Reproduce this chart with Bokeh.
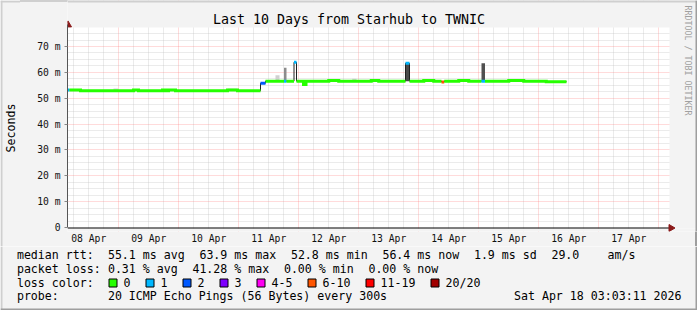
import math
from bokeh.plotting import figure
from bokeh.layouts import column, row
from bokeh.models import Range1d, FixedTicker
from bokeh.core.properties import value
from bokeh.embed import file_html
from bokeh.resources import INLINE

# ---------------- data (hours since 2026-04-08 00:00, values in ms) ----------------
view_start_h = 3.5
view_end_h = 243.5
y_top_ms = 77.0

run_start_h = [3.5, 4.3, 8.7, 29.9, 31.9, 41.5, 42.7, 43.9, 46.7, 67.5, 71.5,
               80.7, 82.7, 90.1, 91.1, 94.1, 95.1, 97.9, 98.9, 108.0, 112.0,
               125.0, 128.0, 138.7, 140.3, 146.0, 150.0, 153.1, 154.2, 160.0,
               164.0, 169.1, 170.5, 180.0, 186.0, 195.0]
run_end_h = 203.1
median_ms = [53.2, 53.2, 52.9, 53.2, 52.9, 53.2, 52.9, 53.2, 52.9, 53.2, 52.9,
             55.8, 56.6, 56.6, 56.6, 63.9, 56.6, 55.3, 56.6, 56.8, 56.6,
             56.8, 56.6, 63.5, 56.6, 56.8, 56.6, 56.3, 56.6, 56.8,
             56.6, 56.6, 56.6, 56.8, 56.6, 56.4]
lost_pings = [1, 0, 0, 0, 0, 0, 0, 0, 0, 0, 0,
              2, 0, 1, 0, 1, 0, 0, 0, 0, 0,
              0, 0, 1, 0, 0, 0, 8, 0, 0,
              0, 1, 0, 0, 0, 0]

smoke_t0_h = [21.9, 43.9, 67.5, 86.7, 90.1, 117.4, 138.7, 169.1]
smoke_t1_h = [23.9, 46.7, 71.5, 88.3, 91.1, 119.1, 140.3, 170.5]
smoke_lo_ms = [53.0, 53.0, 53.0, 56.6, 56.6, 56.6, 56.6, 56.6]
smoke_hi_ms = [53.8, 53.6, 53.8, 58.9, 61.8, 57.5, 63.5, 63.5]
smoke_shade = ["#d4d4d4", "#d4d4d4", "#d4d4d4", "#d0d0d0", "#8c8c8c", "#d4d4d4", "#4a4a4a", "#505050"]

day_label_h = [12, 36, 60, 84, 108, 132, 156, 180, 204, 228]
day_labels = ["08 Apr", "09 Apr", "10 Apr", "11 Apr", "12 Apr", "13 Apr", "14 Apr",
              "15 Apr", "16 Apr", "17 Apr"]
y_ticks = [0, 10, 20, 30, 40, 50, 60, 70]
y_tick_labels = ["0", "10 m", "20 m", "30 m", "40 m", "50 m", "60 m", "70 m"]

loss_labels = ["0", "1", "2", "3", "4-5", "6-10", "11-19", "20/20"]
loss_upper = [0, 1, 2, 3, 5, 10, 19, 20]
loss_colors = ["#26ff00", "#00b8ff", "#0059ff", "#7e00ff", "#ff00f2", "#ff5500", "#ff0000", "#a10000"]

title_text = "Last 10 Days from Starhub to TWNIC"
y_label_text = "Seconds"
watermark_text = "RRDTOOL / TOBI OETIKER"
rtt_items = ["55.1 ms avg", "63.9 ms max", "52.8 ms min", "56.4 ms now", "1.9 ms sd", "29.0", "am/s"]
loss_items = ["0.31 % avg", "41.28 % max", "0.00 % min", "0.00 % now"]
probe_text = "20 ICMP Echo Pings (56 Bytes) every 300s"
date_text = "Sat Apr 18 03:03:11 2026"

# ---------------- layout constants (pixels) ----------------
MONO = "DejaVu Sans Mono"
W, H = 697, 310
LW = 20           # width of the left strip figure (y label)
L = 67            # frame left (canvas)
PT = 28           # top of data area
PB = 228          # bottom of data area (x axis)
PW = 600          # data area width
TOP_H = 246       # height of upper figures
FB = 232          # frame bottom in upper figure
BG = "#f3f3f3"
LIGHT = "#cfcfcf"
DARK = "#9e9e9e"
ARROW = "#8b1a1a"
SHIFT = 0.39      # baseline correction (in em) for alphabetic text

px_per_h = PW / (view_end_h - view_start_h)
px_per_ms = (PB - PT) / y_top_ms
x_hi = view_start_h + (W - L) / px_per_h
y_hi = PB / px_per_ms
y_lo = -(FB - PB) / px_per_ms


def bare(width, height, xr, yr):
    f = figure(width=width, height=height, output_backend="svg", toolbar_location=None,
               title=None, x_range=xr, y_range=yr, x_axis_location=None, y_axis_location=None,
               min_border_left=0, min_border_right=0, min_border_top=0, min_border_bottom=0)
    f.frame_align = False
    f.background_fill_color = BG
    f.border_fill_color = BG
    f.outline_line_color = None
    f.grid.visible = False
    return f


# ---------------- left strip: y label ----------------
s = bare(LW, TOP_H, Range1d(0, LW), Range1d(TOP_H, 0))
s.quad(left=[0, 0], right=[2, LW], top=[0, 0], bottom=[TOP_H, 2], fill_color=[LIGHT, LIGHT],
       line_color=None)
s.text(x=[10], y=[127.5], text=[y_label_text], text_font=value(MONO),
       text_font_size=value("11.6px"), text_align="center", text_baseline="middle",
       text_color="black", angle=math.pi / 2)

# ---------------- main chart ----------------
p = figure(width=W - LW, height=TOP_H, output_backend="svg", toolbar_location=None, title=None,
           x_range=Range1d(view_start_h, x_hi), y_range=Range1d(y_lo, y_hi),
           min_border_left=L - LW, min_border_right=0, min_border_top=0,
           min_border_bottom=TOP_H - FB)
p.frame_align = False
p.extra_x_ranges = {"cx": Range1d(L, W)}
p.extra_y_ranges = {"cy": Range1d(FB, 0)}
p.background_fill_color = "white"
p.border_fill_alpha = 0.0
p.outline_line_color = None
p.styles = {"background": ("linear-gradient(to bottom, %s 2px, transparent 2px), "
                           "linear-gradient(to left, %s 2px, %s 2px)") % (LIGHT, DARK, BG)}

# grids
mid = [24 * k for k in range(1, 11)]
six = [h for h in range(6, 244, 6) if h % 24 != 0]
p.xgrid.ticker = FixedTicker(ticks=mid, minor_ticks=six)
p.ygrid.ticker = FixedTicker(ticks=[10, 20, 30, 40, 50, 60, 70],
                             minor_ticks=[v * 2.5 for v in range(1, 31) if (v * 2.5) % 10 != 0])
for g in (p.xgrid[0], p.ygrid[0]):
    g.grid_line_color = "#ff7070"
    g.grid_line_alpha = 0.5
    g.grid_line_dash = "1 1"
    g.minor_grid_line_color = "#bdbdbd"
    g.minor_grid_line_alpha = 0.6
    g.minor_grid_line_dash = "1 1"

# axes
xa = p.xaxis[0]
xa.ticker = FixedTicker(ticks=day_label_h)
xa.major_label_overrides = {h: t for h, t in zip(day_label_h, day_labels)}
xa.axis_line_color = None
xa.major_tick_line_color = None
xa.major_tick_out = 0
xa.major_tick_in = 0
xa.minor_tick_line_color = None
xa.minor_tick_out = 0
xa.major_label_standoff = 1
xa.major_label_text_font = MONO
xa.major_label_text_font_size = "9.7px"
xa.major_label_text_color = "#111111"

ya = p.yaxis[0]
ya.ticker = FixedTicker(ticks=y_ticks)
ya.major_label_overrides = {v: t for v, t in zip(y_ticks, y_tick_labels)}
ya.bounds = (0, (PB - 24) / px_per_ms)
ya.axis_line_color = "#555555"
ya.major_tick_line_color = "#888888"
ya.major_tick_out = 3
ya.major_tick_in = 0
ya.minor_tick_line_color = None
ya.minor_tick_out = 0
ya.major_label_standoff = 4
ya.major_label_text_font = MONO
ya.major_label_text_font_size = "9.7px"
ya.major_label_text_color = "#111111"

# smoke
p.quad(left=smoke_t0_h, right=smoke_t1_h, bottom=smoke_lo_ms, top=smoke_hi_ms,
       fill_color=smoke_shade, line_color=None)

# median dark step line
ends = run_start_h[1:] + [run_end_h]
sx, sy = [], []
for a, e, m in zip(run_start_h, ends, median_ms):
    sx += [a, e]
    sy += [m, m]
p.line(sx, sy, line_color="#202020", line_width=1)


def color_of(lost):
    for up, col in zip(loss_upper, loss_colors):
        if lost <= up:
            return col
    return loss_colors[-1]


cols = [color_of(l) for l in lost_pings]
pxs, pys, pcs = [], [], []
cx, cy = [], []
for i, (a, e, m) in enumerate(zip(run_start_h, ends, median_ms)):
    if i > 0 and cols[i] == cols[i - 1]:
        cx += [a, e]
        cy += [m, m]
    else:
        if cx:
            pxs.append(cx); pys.append(cy); pcs.append(cols[i - 1])
        cx, cy = [a, e], [m, m]
pxs.append(cx); pys.append(cy); pcs.append(cols[-1])
p.multi_line(xs=pxs, ys=pys, line_color=pcs, line_width=3, line_cap="butt", line_join="miter")

# covers for the parts of the frame outside the data area (canvas pixel coords)
cov_l = [L + PW + 2, L, L, L, W - 2]
cov_r = [W, W, W, W, W]
cov_t = [0, 0, PB + 1, 0, 0]
cov_b = [PB + 1, PT - 1, FB, 2, FB]
cov_c = [BG, BG, BG, LIGHT, DARK]
p.quad(left=cov_l, right=cov_r, top=cov_t, bottom=cov_b, fill_color=cov_c, line_color=None,
       x_range_name="cx", y_range_name="cy")

# x axis line and arrow heads
p.line([L, L + PW + 2], [PB + 0.5, PB + 0.5], line_color="black", line_width=1,
       x_range_name="cx", y_range_name="cy")
p.patches(xs=[[L + 0.5, L - 3, L + 4], [L + PW + 7.5, L + PW + 1.5, L + PW + 1.5]],
          ys=[[20.5, 26.5, 26.5], [PB + 0.5, PB - 3, PB + 4]],
          fill_color=ARROW, line_color=ARROW, line_width=1,
          x_range_name="cx", y_range_name="cy")

# title and watermark
p.text(x=[W / 2], y=[24 - SHIFT * 13.3], text=[title_text], text_font=value(MONO),
       text_font_size=value("13.3px"), text_align="center", text_baseline="alphabetic",
       text_color="black", x_range_name="cx", y_range_name="cy")
p.text(x=[687], y=[5], text=[watermark_text], text_font=value(MONO),
       text_font_size=value("8.3px"), text_align="left", text_baseline="middle",
       text_color="#a0a0a0", angle=-math.pi / 2, x_range_name="cx", y_range_name="cy")

# ---------------- lower figure: legend ----------------
q = bare(W, H - TOP_H, Range1d(0, W), Range1d(H, TOP_H))
q.quad(left=[0, W - 2, 0], right=[2, W, W], top=[TOP_H, TOP_H, H - 2], bottom=[H, H, H],
       fill_color=[LIGHT, DARK, DARK], line_color=None)

X0 = 16.4
CH = 7.0
GAP = 14.5
rows = [259, 273, 287, 300.5]
rows = [r - SHIFT * 11.6 for r in rows]
tx, ty, tt = [], [], []


def put(x, y, t):
    tx.append(x); ty.append(y); tt.append(t)


put(X0, rows[0], "median rtt:")
x = X0 + 13 * CH
for t in rtt_items[:-1]:
    put(x, rows[0], t)
    x += len(t) * CH + GAP
put(607, rows[0], rtt_items[-1])

put(X0, rows[1], "packet loss:")
x = X0 + 13 * CH
for t in loss_items:
    put(x, rows[1], t)
    x += len(t) * CH + GAP

put(X0, rows[2], "loss color:")
bx = 108
bl, br = [], []
for lab in loss_labels:
    bl.append(bx + 0.5); br.append(bx + 8.5)
    put(bx + 15, rows[2], lab)
    bx += 30 + len(lab) * CH
q.quad(left=bl, right=br, top=[278.5] * len(bl), bottom=[286.5] * len(bl),
       fill_color=loss_colors, line_color="black", line_width=1)

put(X0, rows[3], "probe:")
put(X0 + 13 * CH, rows[3], probe_text)

q.text(x=tx, y=ty, text=tt, text_font=value(MONO), text_font_size=value("11.6px"),
       text_align="left", text_baseline="alphabetic", text_color="black")
q.text(x=[681], y=[rows[3]], text=[date_text], text_font=value(MONO),
       text_font_size=value("11.6px"), text_align="right", text_baseline="alphabetic",
       text_color="black")

layout = column(row(s, p, spacing=0), q, spacing=0)
open("out.html", "w").write(file_html(layout, INLINE))
